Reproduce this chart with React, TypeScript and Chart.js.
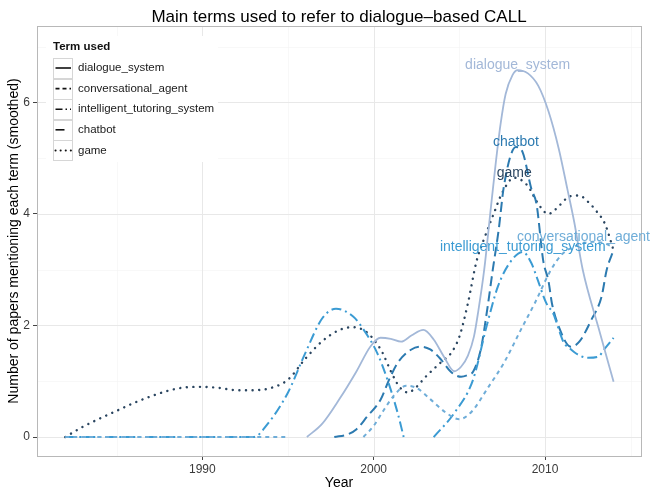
import React, { useEffect, useRef } from 'react';
import { Chart, registerables } from 'chart.js';

Chart.register(...registerables);

const FONT = '"Liberation Sans", Arial, Helvetica, sans-serif';

const chartTitle = 'Main terms used to refer to dialogue–based CALL';
const xTitle = 'Year';
const yTitle = 'Number of papers mentioning each term (smoothed)';
const legendTitle = 'Term used';

const terms = ['dialogue_system', 'conversational_agent', 'intelligent_tutoring_system', 'chatbot', 'game'];

const xTickValues = [1990, 2000, 2010];
const xMinorValues = [1985, 1995, 2005, 2015];
const yTickValues = [0, 2, 4, 6];
const yMinorValues = [1, 3, 5, 7];

const dialogueYears = [1996.1, 1997, 1998, 1999, 1999.8, 2000.4, 2001, 2001.6, 2002.2, 2002.9, 2003.5, 2004.1, 2004.7, 2005.1, 2005.5, 2005.85, 2006.1, 2006.45, 2006.8, 2007.1, 2007.4, 2007.7, 2008.1, 2008.4, 2009, 2009.6, 2010.2, 2010.8, 2011.3, 2011.7, 2012.2, 2013.1, 2014];
const dialogueValues = [0, 0.24, 0.68, 1.18, 1.62, 1.78, 1.76, 1.71, 1.82, 1.92, 1.75, 1.44, 1.18, 1.26, 1.46, 1.8, 2.25, 3.0, 4.0, 4.85, 5.6, 6.15, 6.49, 6.58, 6.52, 6.3, 5.84, 5.17, 4.45, 3.86, 3.0, 1.98, 0.99];

const convYears = [1982, 1995, 1997, 1999.4, 2000, 2000.6, 2001.2, 2001.9, 2002.5, 2003.3, 2004.2, 2005, 2005.7, 2006.7, 2007.6, 2008.6, 2009.4, 2010.35, 2011, 2012, 2012.8, 2013.5, 2014];
const convValues = [0, 0, null, 0, 0.2, 0.49, 0.75, 0.92, 0.88, 0.68, 0.44, 0.32, 0.45, 0.9, 1.33, 1.93, 2.4, 3.0, 3.28, 3.45, 3.5, 3.47, 3.4];

const itsYears = [1982, 1993, 1993.8, 1995, 1996, 1997, 1997.8, 1998.8, 1999.4, 2000.2, 2000.8, 2001.4, 2001.75, 2002.5, 2003.5, 2004.7, 2005.8, 2006.6, 2007.25, 2008, 2008.7, 2009.2, 2009.5, 2010.06, 2010.5, 2010.8, 2011.1, 2011.4, 2011.9, 2012.5, 2013.1, 2013.45, 2014];
const itsValues = [0, 0, 0.23, 0.8, 1.5, 2.13, 2.3, 2.16, 1.93, 1.51, 1.03, 0.43, 0, null, 0, 0.43, 1.03, 2.0, 2.7, 3.15, 3.32, 3.12, 2.88, 2.41, 2.2, 1.93, 1.69, 1.6, 1.48, 1.42, 1.44, 1.57, 1.78];

const chatbotYears = [1997.7, 1998.5, 1999, 1999.6, 2000.4, 2000.9, 2001.4, 2002.2, 2002.75, 2003.3, 2003.9, 2004.5, 2005.1, 2005.55, 2005.8, 2006.25, 2006.65, 2006.95, 2007.3, 2007.6, 2008.3, 2008.7, 2009.2, 2009.5, 2009.9, 2010.2, 2010.4, 2010.8, 2011.5, 2012, 2012.7, 2013.3, 2013.6, 2014];
const chatbotValues = [0, 0.05, 0.14, 0.36, 0.67, 1.03, 1.33, 1.57, 1.62, 1.57, 1.4, 1.17, 1.08, 1.12, 1.17, 1.57, 2.34, 3.0, 3.73, 4.5, 5.2, 5.1, 4.45, 4.18, 3.15, 2.8, 2.4, 1.98, 1.62, 1.71, 2.1, 2.52, 3.0, 3.35];

const gameYears = [1982, 1983, 1984, 1985, 1986, 1987, 1988, 1989, 1990, 1991, 1992, 1993, 1994, 1995, 1996, 1997, 1998, 1998.8, 1999.5, 2000, 2000.5, 2001, 2001.5, 2002, 2002.5, 2003, 2003.5, 2004, 2004.5, 2005, 2005.5, 2006, 2006.5, 2007, 2007.5, 2008.2, 2009, 2009.5, 2010.2, 2010.6, 2011.5, 2012, 2012.5, 2013, 2013.5, 2014];
const gameValues = [0, 0.18, 0.33, 0.47, 0.61, 0.73, 0.83, 0.89, 0.9, 0.88, 0.84, 0.84, 0.88, 1.03, 1.4, 1.72, 1.92, 1.97, 1.9, 1.75, 1.52, 1.18, 0.9, 0.8, 0.9, 1.07, 1.22, 1.36, 1.5, 1.8, 2.4, 3.15, 3.6, 4.0, 4.38, 4.65, 4.5, 4.23, 4.0, 4.08, 4.32, 4.33, 4.22, 4.05, 3.82, 3.35];

const seriesYears = [dialogueYears, convYears, itsYears, chatbotYears, gameYears];
const seriesValues = [dialogueValues, convValues, itsValues, chatbotValues, gameValues];

const termColors = ['#a3b8d8', '#6fadd8', '#3b9bd3', '#2c7ab0', '#2a4560'];
const termDashes = [[], [4, 4], [10, 4, 2, 4], [10, 5], [0.1, 6.5]];
const termWidths = [1.8, 2, 2, 2, 2.4];
const legendDashes = [[], [4, 3], [7, 3, 1.5, 3], [9, 8], [0.1, 5]];

const decorPlugin = {
  id: 'decor',
  beforeDatasetsDraw(chart: any) {
    const { ctx, chartArea: a, scales } = chart;
    const xs = scales.x, ys = scales.y;
    ctx.save();
    ctx.lineWidth = 0.6;
    ctx.strokeStyle = '#f4f4f4';
    xMinorValues.forEach((v) => {
      const px = Math.round(xs.getPixelForValue(v)) + 0.5;
      if (px < a.left || px > a.right) return;
      ctx.beginPath(); ctx.moveTo(px, a.top); ctx.lineTo(px, a.bottom); ctx.stroke();
    });
    yMinorValues.forEach((v) => {
      const py = Math.round(ys.getPixelForValue(v)) + 0.5;
      if (py < a.top || py > a.bottom) return;
      ctx.beginPath(); ctx.moveTo(a.left, py); ctx.lineTo(a.right, py); ctx.stroke();
    });
    ctx.lineWidth = 1;
    ctx.strokeStyle = '#e8e8e8';
    xTickValues.forEach((v) => {
      const px = Math.round(xs.getPixelForValue(v)) + 0.5;
      ctx.beginPath(); ctx.moveTo(px, a.top); ctx.lineTo(px, a.bottom); ctx.stroke();
    });
    yTickValues.forEach((v) => {
      const py = Math.round(ys.getPixelForValue(v)) + 0.5;
      ctx.beginPath(); ctx.moveTo(a.left, py); ctx.lineTo(a.right, py); ctx.stroke();
    });
    ctx.strokeStyle = '#b8b8b8';
    ctx.strokeRect(Math.round(a.left) + 0.5, Math.round(a.top) + 0.5, Math.round(a.right - a.left), Math.round(a.bottom - a.top));
    ctx.restore();
  },
  afterDatasetsDraw(chart: any) {
    const { ctx, chartArea: a, scales } = chart;
    ctx.save();
    ctx.font = `14px ${FONT}`;
    ctx.textAlign = 'center';
    ctx.textBaseline = 'middle';
    chart.data.datasets.forEach((ds: any) => {
      let best: any = null;
      ds.data.forEach((p: any) => {
        if (p.y !== null && (best === null || p.y > best.y)) best = p;
      });
      if (!best) return;
      const px = scales.x.getPixelForValue(best.x);
      const py = scales.y.getPixelForValue(best.y);
      const w = ctx.measureText(ds.label).width;
      const cx = Math.max(a.left + w / 2 + 2, Math.min(chart.width - 4 - w / 2, px));
      ctx.fillStyle = ds.borderColor;
      ctx.fillText(ds.label, cx, py - 5);
    });
    ctx.restore();
  },
  afterDraw(chart: any) {
    const { ctx, chartArea: a } = chart;
    ctx.save();
    ctx.fillStyle = '#000';
    ctx.font = `17px ${FONT}`;
    ctx.textAlign = 'center';
    ctx.textBaseline = 'middle';
    ctx.fillText(chartTitle, (a.left + a.right) / 2, 17);
    ctx.font = `14px ${FONT}`;
    ctx.fillText(xTitle, (a.left + a.right) / 2, 483);
    ctx.save();
    ctx.translate(14, (a.top + a.bottom) / 2);
    ctx.rotate(-Math.PI / 2);
    ctx.fillText(yTitle, 0, 0);
    ctx.restore();
    const lx = 46, ly = 36;
    ctx.fillStyle = '#ffffff';
    ctx.fillRect(lx, ly, 172, 126);
    ctx.textAlign = 'left';
    ctx.fillStyle = '#111';
    ctx.font = `bold 11.5px ${FONT}`;
    ctx.fillText(legendTitle, 53, 47);
    ctx.font = `11.5px ${FONT}`;
    chart.data.datasets.forEach((ds: any, i: number) => {
      const ry = 68 + i * 20.6;
      ctx.strokeStyle = '#d6d6d6';
      ctx.lineWidth = 1;
      ctx.setLineDash([]);
      ctx.strokeRect(53.5, Math.round(ry - 10) + 0.5, 19, 20);
      ctx.strokeStyle = '#111';
      ctx.lineWidth = i === 4 ? 2 : 1.6;
      ctx.lineCap = i === 4 ? 'round' : 'butt';
      ctx.setLineDash(legendDashes[i]);
      ctx.beginPath();
      ctx.moveTo(55.5, ry);
      ctx.lineTo(71, ry);
      ctx.stroke();
      ctx.setLineDash([]);
      ctx.fillStyle = '#1a1a1a';
      ctx.fillText(ds.label, 78, ry);
    });
    ctx.restore();
  },
};

export default function App() {
  const ref = useRef<HTMLCanvasElement>(null);
  useEffect(() => {
    document.body.style.margin = '0';
    const canvas = ref.current;
    if (!canvas) return;
    Chart.defaults.font.family = FONT;
    const datasets = terms.map((t, i) => ({
      label: t,
      data: seriesYears[i].map((x, j) => ({ x, y: seriesValues[i][j] })),
      borderColor: termColors[i],
      backgroundColor: termColors[i],
      borderWidth: termWidths[i],
      borderDash: termDashes[i],
      borderCapStyle: i === 4 ? 'round' : 'butt',
      cubicInterpolationMode: 'monotone',
      pointRadius: 0,
      spanGaps: false,
      fill: false,
    }));
    const chart = new Chart(canvas, {
      type: 'line',
      data: { datasets } as any,
      plugins: [decorPlugin],
      options: {
        responsive: false,
        animation: false,
        layout: { padding: { left: 0, right: 13, top: 26, bottom: 0 } },
        plugins: { legend: { display: false }, tooltip: { enabled: false }, title: { display: false } },
        scales: {
          x: {
            type: 'linear',
            min: 1980.35,
            max: 2015.6,
            afterBuildTicks: (s: any) => { s.ticks = xTickValues.map((v) => ({ value: v })); },
            afterFit: (s: any) => { s.height = 34; },
            ticks: { callback: (v: any) => String(v), font: { size: 12, family: FONT }, color: '#3a3a3a', padding: 2, maxRotation: 0, autoSkip: false },
            grid: { color: 'rgba(0,0,0,0)', tickColor: '#444', tickLength: 4, drawTicks: true },
            border: { display: false },
          },
          y: {
            type: 'linear',
            min: -0.34,
            max: 7.37,
            afterBuildTicks: (s: any) => { s.ticks = yTickValues.map((v) => ({ value: v })); },
            afterFit: (s: any) => { s.width = 37; },
            ticks: { callback: (v: any) => String(v), font: { size: 12, family: FONT }, color: '#3a3a3a', padding: 3, autoSkip: false },
            grid: { color: 'rgba(0,0,0,0)', tickColor: '#444', tickLength: 4, drawTicks: true },
            border: { display: false },
          },
        },
      } as any,
    });
    return () => chart.destroy();
  }, []);
  return (
    <div style={{ width: 654, height: 490, position: 'relative' }}>
      <canvas ref={ref} width={654} height={490} style={{ display: 'block', width: 654, height: 490 }} />
    </div>
  );
}
